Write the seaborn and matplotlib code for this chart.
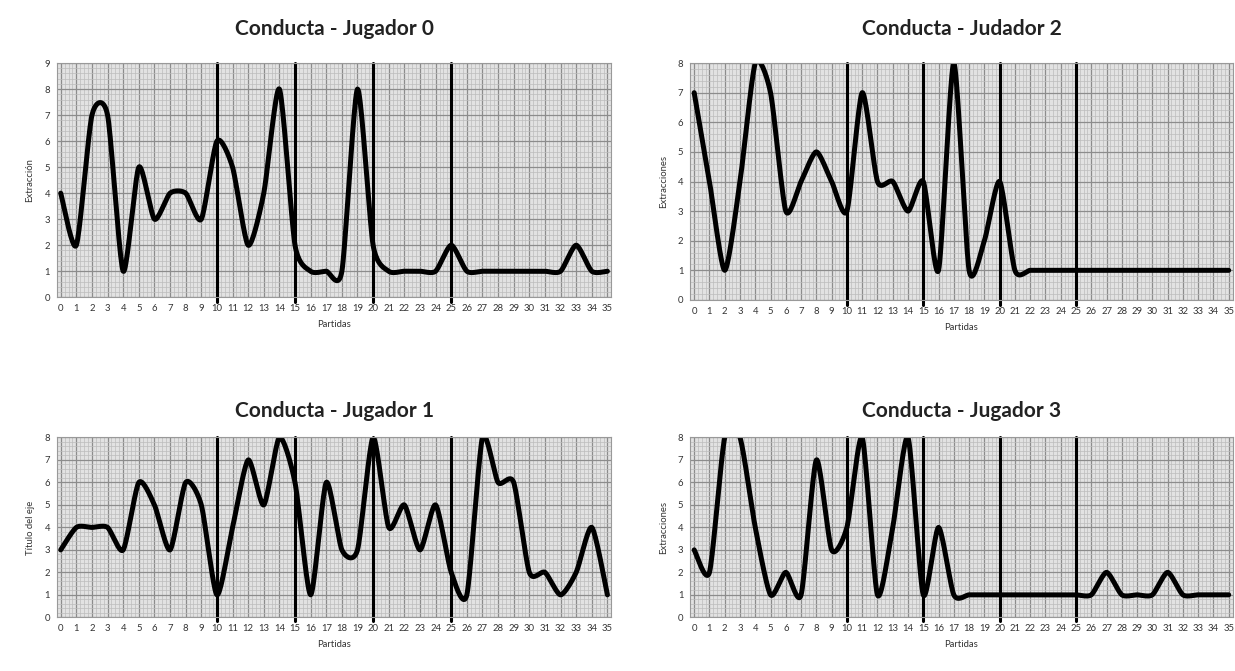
import numpy as np
import pandas as pd
import matplotlib.pyplot as plt
import seaborn as sns
from matplotlib.ticker import MultipleLocator

# datos
partidas = list(range(36))
jugador0 = [4, 2, 7, 7, 1, 5, 3, 4, 4, 3, 6, 5, 2, 4, 8, 2, 1, 1, 1, 8, 2, 1, 1, 1, 1, 2, 1, 1, 1, 1, 1, 1, 1, 2, 1, 1]
jugador2 = [7, 4, 1, 4, 8, 7, 3, 4, 5, 4, 3, 7, 4, 4, 3, 4, 1, 8, 1, 2, 4, 1, 1, 1, 1, 1, 1, 1, 1, 1, 1, 1, 1, 1, 1, 1]
jugador1 = [3, 4, 4, 4, 3, 6, 5, 3, 6, 5, 1, 4, 7, 5, 8, 6, 1, 6, 3, 3, 8, 4, 5, 3, 5, 2, 1, 8, 6, 6, 2, 2, 1, 2, 4, 1]
jugador3 = [3, 2, 8, 8, 4, 1, 2, 1, 7, 3, 4, 8, 1, 4, 8, 1, 4, 1, 1, 1, 1, 1, 1, 1, 1, 1, 1, 2, 1, 1, 1, 2, 1, 1, 1, 1]
cortes = [10, 15, 20, 25]

titulos = ["Conducta - Jugador 0", "Conducta - Judador 2", "Conducta - Jugador 1", "Conducta - Jugador 3"]
ylabels = ["Extracción", "Extracciones", "Título del eje", "Extracciones"]
ymax = [9, 8, 8, 8]
series = [jugador0, jugador2, jugador1, jugador3]


def suavizar(x, y, n=20, s=0.35):
    # linea suavizada estilo Excel (spline cardinal), solo para el trazo
    x = np.asarray(x, float)
    y = np.asarray(y, float)
    px = np.r_[x[0], x, x[-1]]
    py = np.r_[y[0], y, y[-1]]
    t = np.linspace(0, 1, n, endpoint=False)
    h00 = 2 * t ** 3 - 3 * t ** 2 + 1
    h10 = t ** 3 - 2 * t ** 2 + t
    h01 = -2 * t ** 3 + 3 * t ** 2
    h11 = t ** 3 - t ** 2
    xs, ys = [], []
    for i in range(1, len(px) - 2):
        for p, out in ((px, xs), (py, ys)):
            m1 = s * (p[i + 1] - p[i - 1])
            m2 = s * (p[i + 2] - p[i])
            out.extend(h00 * p[i] + h10 * m1 + h01 * p[i + 1] + h11 * m2)
    xs.append(x[-1])
    ys.append(y[-1])
    return pd.DataFrame({"Partidas": xs, "valor": ys})


sns.set_style("white")
plt.rcParams['font.family'] = ['Lato', 'DejaVu Sans']

fig = plt.figure(figsize=(12.35, 6.71), dpi=100)
posiciones = [
    [0.046, 0.557, 0.449, 0.349],
    [0.559, 0.553, 0.439, 0.353],
    [0.046, 0.080, 0.449, 0.268],
    [0.559, 0.080, 0.439, 0.268],
]
pads = [20, 20, 15, 15]

for k in range(4):
    ax = fig.add_axes(posiciones[k])
    ax.set_facecolor("#e2e2e2")
    df = suavizar(partidas, series[k])
    sns.lineplot(data=df, x="Partidas", y="valor", sort=False, estimator=None,
                 color="black", linewidth=3.6, ax=ax)
    for c in cortes:
        ax.axvline(c, ymin=-0.02, ymax=1.0, color="black", linewidth=2.2, clip_on=False)

    ax.set_xlim(-0.25, 35.25)
    ax.set_ylim(0, ymax[k])
    ax.set_xticks(partidas)
    ax.set_xticklabels([str(p) for p in partidas], fontsize=6.8, color="#333333")
    ax.set_yticks(range(ymax[k] + 1))
    ax.tick_params(axis="y", labelsize=6.8, labelcolor="#333333", length=0, pad=5)
    ax.tick_params(axis="x", length=0, pad=5)
    ax.yaxis.set_minor_locator(MultipleLocator(0.2))
    ax.xaxis.set_minor_locator(MultipleLocator(0.25))
    ax.grid(which="minor", color="#bcbcbc", linewidth=0.5)
    ax.grid(which="major", color="#8c8c8c", linewidth=0.9)
    ax.set_axisbelow(True)
    for s in ax.spines.values():
        s.set_color("#999999")
        s.set_linewidth(0.8)
    ax.set_xlabel("Partidas", fontsize=6.8, color="#333333", labelpad=5)
    ax.set_ylabel(ylabels[k], fontsize=6.8, color="#333333", labelpad=7)
    ax.set_title(titulos[k], fontsize=15, fontweight="bold", color="#222222", pad=pads[k])

fig.savefig("out.png", dpi=100, facecolor="white")
